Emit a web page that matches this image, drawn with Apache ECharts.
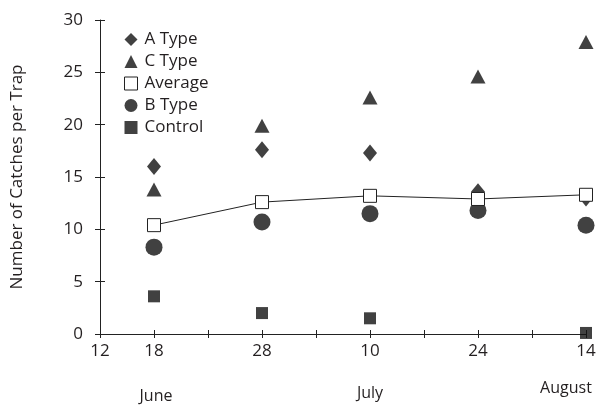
<!DOCTYPE html>
<html><head><meta charset="utf-8">
<script src="https://cdn.jsdelivr.net/npm/echarts@6/dist/echarts.min.js"></script>
<style>html,body{margin:0;padding:0;background:#fff}#c{width:600px;height:408px}</style>
</head><body><div id="c"></div>
<script>
var dayLabels = ['12','18','','28','','10','','24','','14'];
var monthLabels = ['','June','','','','July','','','','August'];
var aType   = [null,16.0,null,17.6,null,17.3,null,13.6,null,13.0];
var cType   = [null,13.8,null,19.9,null,22.6,null,24.6,null,27.9];
var average = [null,10.4,null,12.6,null,13.2,null,12.9,null,13.3];
var bType   = [null,8.3,null,10.7,null,11.5,null,11.8,null,10.4];
var control = [null,3.6,null,2.0,null,1.5,null,null,null,0.1];

var font = 'Open Sans';
var txt = '#231f20';
var chart = echarts.init(document.getElementById('c'));
chart.setOption({
  animation:false,
  textStyle:{fontFamily:font,color:txt},
  grid:{left:100,right:14,top:20,bottom:74},
  legend:{
    left:119, top:26, orient:'vertical', itemGap:5, itemWidth:13, itemHeight:13,
    textStyle:{fontFamily:font,fontSize:17,color:txt,padding:[0,0,0,2]},
    data:[
      {name:'A Type',icon:'diamond'},
      {name:'C Type',icon:'triangle'},
      {name:'Average',icon:'rect',itemStyle:{color:'#fff',borderColor:'#222',borderWidth:1}},
      {name:'B Type',icon:'circle'},
      {name:'Control',icon:'rect'}
    ]
  },
  xAxis:[{
    type:'category', data:dayLabels, boundaryGap:false,
    axisLine:{lineStyle:{color:'#222',width:1}},
    axisTick:{show:true,interval:0,length:4,lineStyle:{color:'#222'}},
    axisLabel:{interval:0,margin:9,fontSize:17,color:txt,fontFamily:font},
    splitLine:{show:false}
  },{
    type:'category', data:monthLabels, boundaryGap:false, position:'bottom',
    axisLine:{show:false},
    axisTick:{show:true,inside:true,interval:0,length:4,lineStyle:{color:'#222'}},
    axisLabel:{interval:0,margin:46,fontSize:16,color:txt,fontFamily:font,
      formatter:function(v){ if(v==='June')return '{jun|June}'; if(v==='July')return '{jul|July}'; if(v==='August')return '{aug|August}'; return ''; },
      rich:{
        jun:{fontSize:16,color:txt,fontFamily:font,padding:[8,0,0,4]},
        jul:{fontSize:16,color:txt,fontFamily:font,padding:[5,0,0,0]},
        aug:{fontSize:16,color:txt,fontFamily:font,padding:[0,40,0,0]}
      }},
    splitLine:{show:false}
  }],
  yAxis:[{
    type:'value', min:0, max:30, interval:5,
    name:'Number of Catches per Trap', nameLocation:'middle', nameGap:74, nameRotate:90,
    nameTextStyle:{fontSize:17,color:txt,fontFamily:font},
    axisLine:{show:true,lineStyle:{color:'#222'}},
    axisTick:{show:true,length:5,lineStyle:{color:'#222'}},
    axisLabel:{margin:17,fontSize:17,color:txt,fontFamily:font},
    splitLine:{show:false}
  },{
    type:'value', min:0, max:30, interval:5, position:'left',
    axisLine:{show:false},
    axisTick:{show:true,inside:true,length:5,lineStyle:{color:'#222'}},
    axisLabel:{show:false}, splitLine:{show:false}
  }],
  series:[
    {name:'A Type',type:'scatter',data:aType,symbol:'diamond',symbolSize:[14,17],itemStyle:{color:'#111'},z:2},
    {name:'C Type',type:'scatter',data:cType,symbol:'triangle',symbolSize:[15,14],itemStyle:{color:'#111'},z:2},
    {name:'B Type',type:'scatter',data:bType,symbol:'circle',symbolSize:17,itemStyle:{color:'#111'},z:2},
    {name:'Control',type:'scatter',data:control,symbol:'rect',symbolSize:12,itemStyle:{color:'#111'},z:2},
    {name:'Average',type:'line',data:average,connectNulls:true,symbol:'rect',symbolSize:13,showAllSymbol:true,
      lineStyle:{color:'#222',width:1},itemStyle:{color:'#fff',borderColor:'#222',borderWidth:1},z:5}
  ]
});
</script></body></html>
